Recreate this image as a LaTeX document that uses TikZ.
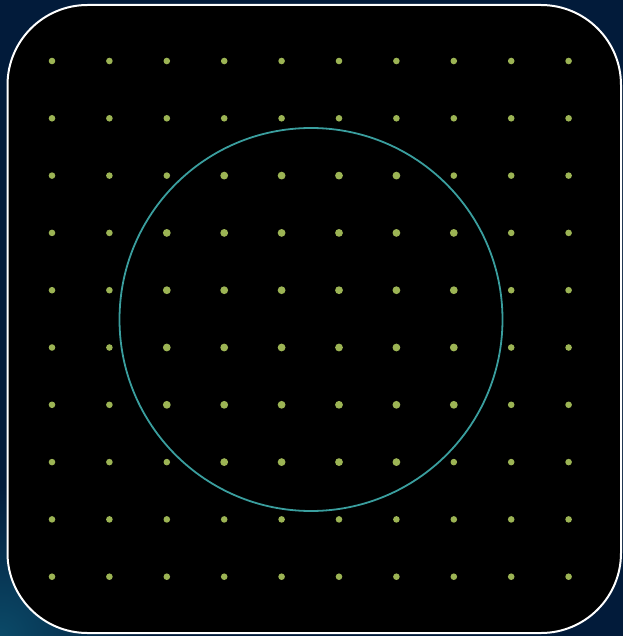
\documentclass[tikz,border=0pt]{standalone}
\usepackage{tikz}

\definecolor{navybg}{HTML}{021B3A}
\definecolor{deepteal}{HTML}{0B4A68}
\definecolor{dotgreen}{HTML}{9CB454}
\definecolor{ringteal}{HTML}{3A9E9E}

\begin{document}
\begin{tikzpicture}[
        x=1pt, y=-1pt,
        panel/.style={draw=white, line width=2pt, fill=black, rounded corners=80pt},
        gridpt/.style={fill=dotgreen, draw=none},
        ring/.style={draw=ringteal, line width=1.8pt}
    ]
        % background and frame
        \fill[navybg] (0,0) rectangle (623,636);
        \begin{scope}
            \clip (0,0) rectangle (623,636);
            \shade[inner color=deepteal, outer color=navybg] (0,636) circle (150pt);
        \end{scope}
        \useasboundingbox (0,0) rectangle (623,636);
        \draw[panel] (7.5,5) rectangle (621,633);

        % lattice of points, larger inside the ring
        \foreach \i in {0,...,9} {
            \foreach \j in {0,...,9} {
                \pgfmathsetmacro\px{52+57.4*\i}
                \pgfmathsetmacro\py{61+57.3*\j}
                \pgfmathsetmacro\dd{veclen(\px-311,\py-319)}
                \ifdim\dd pt<191pt
                    \fill[gridpt] (\px,\py) circle (3.9pt);
                \else
                    \fill[gridpt] (\px,\py) circle (3.3pt);
                \fi
            }
        }

        % ring
        \node[ring, circle, minimum size=383pt, inner sep=0pt] (disk) at (311,319.5) {};
    \end{tikzpicture}
\end{document}
